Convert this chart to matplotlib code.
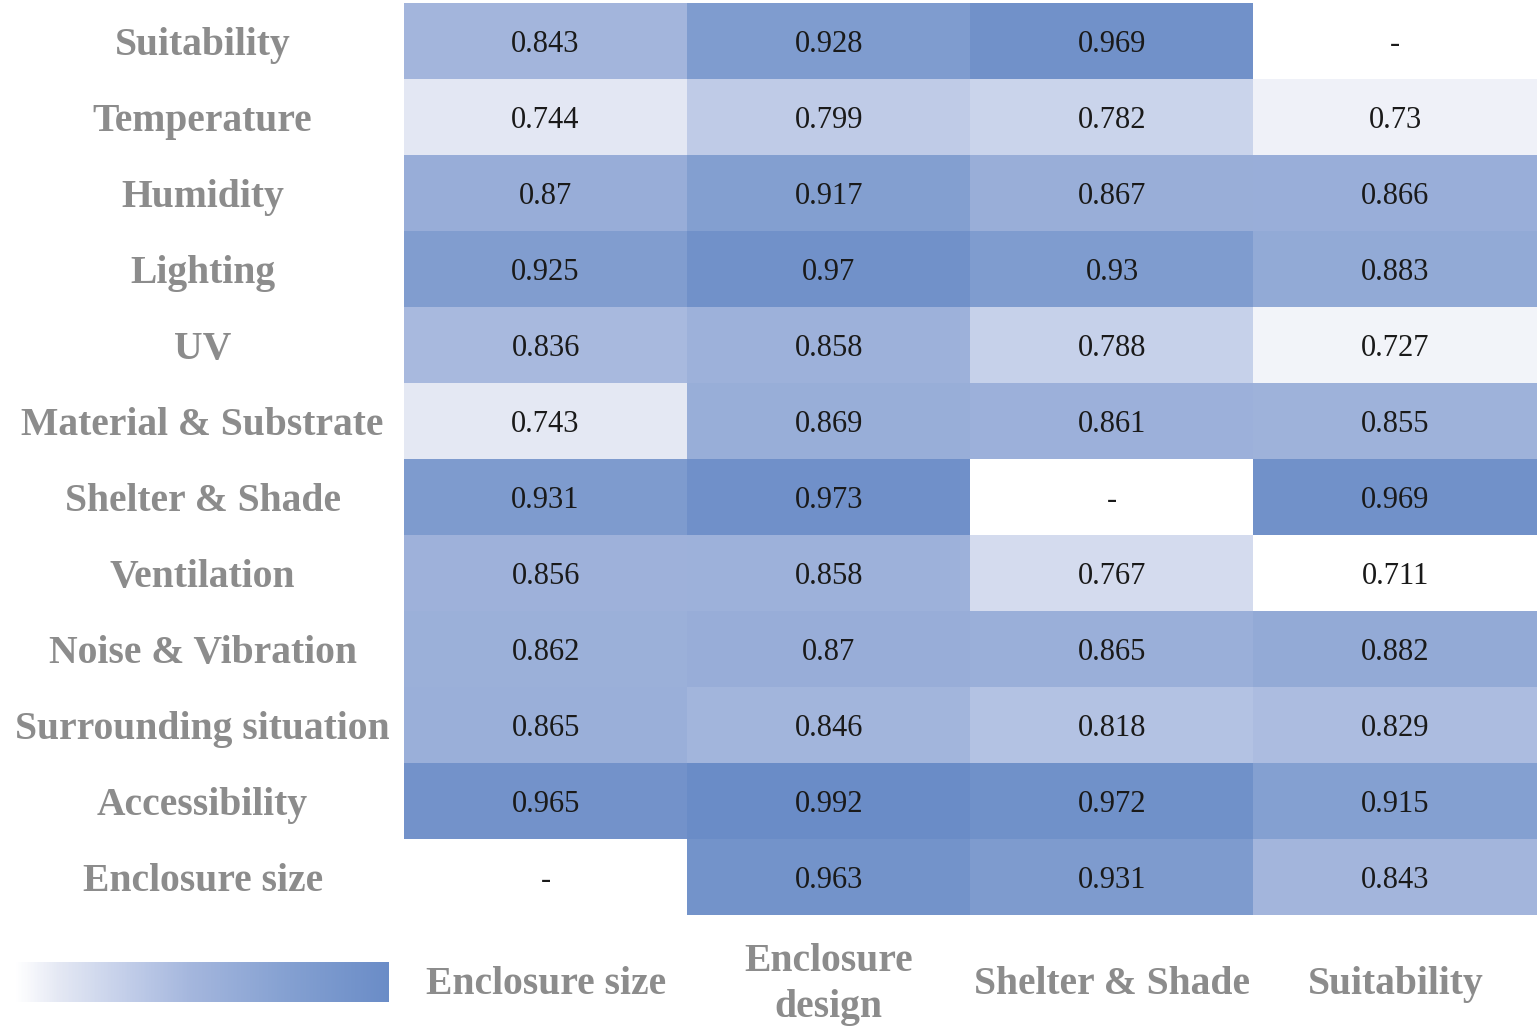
import matplotlib.pyplot as plt
import numpy as np
from matplotlib.colors import LinearSegmentedColormap

rows = ['Suitability', 'Temperature', 'Humidity', 'Lighting', 'UV',
        'Material & Substrate', 'Shelter & Shade', 'Ventilation',
        'Noise & Vibration', 'Surrounding situation', 'Accessibility',
        'Enclosure size']
cols = ['Enclosure size', 'Enclosure\ndesign', 'Shelter & Shade', 'Suitability']

# nan = no value ("-")
enclosure_size = [0.843, 0.744, 0.87, 0.925, 0.836, 0.743, 0.931, 0.856, 0.862, 0.865, 0.965, np.nan]
enclosure_design = [0.928, 0.799, 0.917, 0.97, 0.858, 0.869, 0.973, 0.858, 0.87, 0.846, 0.992, 0.963]
shelter_shade = [0.969, 0.782, 0.867, 0.93, 0.788, 0.861, np.nan, 0.767, 0.865, 0.818, 0.972, 0.931]
suitability = [np.nan, 0.73, 0.866, 0.883, 0.727, 0.855, 0.969, 0.711, 0.882, 0.829, 0.915, 0.843]

data = np.array([enclosure_size, enclosure_design, shelter_shade, suitability]).T
masked = np.ma.masked_invalid(data)

cmap = LinearSegmentedColormap.from_list('blues', [
    (0.0, '#ffffff'), (0.12, '#e3e7f3'), (0.31, '#c0cce8'),
    (0.47, '#a4b6dd'), (0.73, '#84a0d1'), (1.0, '#6a8cc7')])
cmap.set_bad('white')

plt.rcParams['font.family'] = ['Liberation Serif', 'DejaVu Serif']
label_color = '#8c8c8c'

fig = plt.figure(figsize=(15.37, 10.29), dpi=100)
ax = fig.add_axes([404 / 1537, 1 - 915 / 1029, 1 - 404 / 1537, 912 / 1029])
im = ax.imshow(masked, cmap=cmap, vmin=0.711, vmax=0.992, aspect='auto',
               interpolation='nearest')

for i in range(data.shape[0]):
    for j in range(data.shape[1]):
        v = data[i, j]
        txt = '-' if np.isnan(v) else f'{v:g}'
        ax.text(j, i + 0.05, txt, ha='center', va='center', fontsize=22, color='#1a1a1a')

ax.set_yticks(range(len(rows)))
ax.set_yticklabels(rows, fontsize=28.5, fontweight='bold', color=label_color, ha='center')
ax.tick_params(axis='y', length=0, pad=145)
ax.set_xticks(range(len(cols)))
ax.set_xticklabels(cols, fontsize=28.5, fontweight='bold', color=label_color,
                   va='center', linespacing=1.3)
ax.tick_params(axis='x', length=0, pad=50)
for s in ax.spines.values():
    s.set_visible(False)

cax = fig.add_axes([15 / 1537, 1 - 1002 / 1029, 374 / 1537, 40 / 1029])
cb = fig.colorbar(im, cax=cax, orientation='horizontal')
cb.outline.set_visible(False)
cb.set_ticks([])

fig.savefig('out.png', dpi=100)
